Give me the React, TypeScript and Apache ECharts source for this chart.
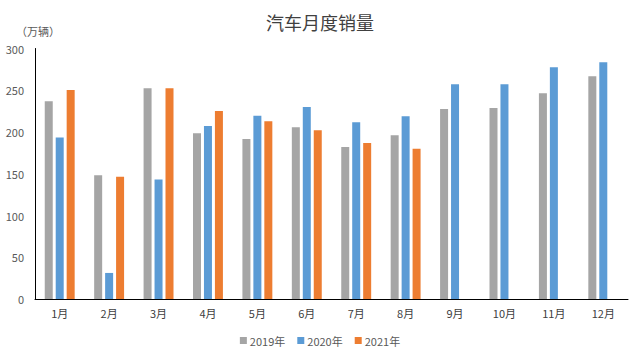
import React, { useEffect, useRef } from "react";
import * as echarts from "echarts";

const months = ["1月", "2月", "3月", "4月", "5月", "6月", "7月", "8月", "9月", "10月", "11月", "12月"];
const sales2019 = [236.9, 148.1, 252.3, 198.6, 191.5, 205.8, 181.9, 196.1, 227.4, 228.6, 246.4, 266.9];
const sales2020 = [193.5, 31.2, 143.0, 207.2, 219.6, 230.0, 211.8, 219.0, 257.2, 257.3, 277.6, 283.6];
const sales2021 = [250.2, 146.3, 252.5, 225.1, 213.0, 202.2, 186.7, 179.9, null, null, null, null];
const yTicks = { min: 0, max: 300, interval: 50 };

const FONT = "'Noto Sans CJK SC', 'DejaVu Sans', sans-serif";

export default function App() {
  const ref = useRef<HTMLDivElement>(null);
  useEffect(() => {
    if (!ref.current) return;
    const chart = echarts.init(ref.current, undefined, { renderer: "svg" });
    const barCommon = { type: "bar" as const, barWidth: 8, barGap: "37%" };
    chart.setOption({
      animation: false,
      backgroundColor: "#ffffff",
      title: {
        text: "汽车月度销量",
        left: "center",
        top: 8,
        textStyle: { fontFamily: FONT, fontSize: 18, fontWeight: "normal", color: "#404040" },
      },
      graphic: [
        {
          type: "text",
          left: 16,
          top: 25,
          style: { text: "（万辆）", fontFamily: FONT, fontSize: 11, fill: "#595959" },
        },
      ],
      legend: {
        bottom: 8,
        left: "center",
        itemWidth: 7,
        itemHeight: 7,
        itemGap: 12,
        icon: "rect",
        textStyle: { fontFamily: FONT, fontSize: 11, color: "#595959", padding: [0, 0, 0, -2] },
        data: ["2019年", "2020年", "2021年"],
      },
      grid: { left: 35, right: 12, top: 48.5, bottom: 60, containLabel: false },
      xAxis: {
        type: "category",
        data: months,
        axisLine: { lineStyle: { color: "#000000", width: 1 } },
        axisTick: { show: false },
        axisLabel: { fontFamily: FONT, fontSize: 11, color: "#404040", margin: 8 },
      },
      yAxis: {
        type: "value",
        min: yTicks.min,
        max: yTicks.max,
        interval: yTicks.interval,
        axisLine: { show: true, lineStyle: { color: "#000000", width: 1 } },
        axisTick: { show: false },
        splitLine: { show: false },
        axisLabel: { fontFamily: FONT, fontSize: 11, color: "#595959", margin: 11 },
      },
      series: [
        { ...barCommon, name: "2019年", data: sales2019, itemStyle: { color: "#A5A5A5" } },
        { ...barCommon, name: "2020年", data: sales2020, itemStyle: { color: "#5B9BD5" } },
        { ...barCommon, name: "2021年", data: sales2021, itemStyle: { color: "#ED7D31" } },
      ],
    });
    return () => chart.dispose();
  }, []);
  return <div ref={ref} style={{ width: 640, height: 359, position: "fixed", left: 0, top: 0 }} />;
}
